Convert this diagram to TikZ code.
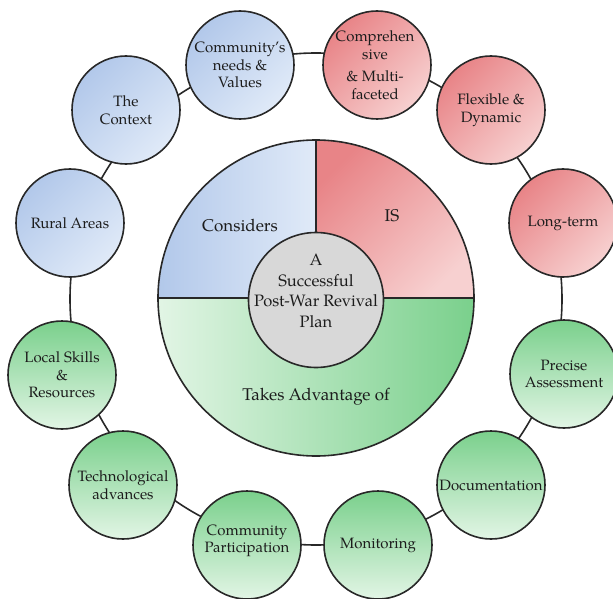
\documentclass[tikz,border=0pt]{standalone}
\usepackage{fontspec}
\setmainfont{TeX Gyre Pagella}
\definecolor{blueD}{RGB}{178,200,234}
\definecolor{blueL}{RGB}{224,234,248}
\definecolor{redD}{RGB}{232,132,135}
\definecolor{redL}{RGB}{247,208,208}
\definecolor{greenD}{RGB}{122,208,140}
\definecolor{greenL}{RGB}{226,245,229}
\definecolor{grayC}{RGB}{216,216,216}
\definecolor{lineC}{RGB}{40,40,40}
\definecolor{txtC}{RGB}{28,28,28}
\begin{document}
\begin{tikzpicture}[x=1pt,y=1pt,
  bord/.style={draw=lineC, line width=1.6pt},
  sc/.style={circle, bord, minimum size=108pt, inner sep=0pt},
  bc/.style={sc, top color=blueD, bottom color=blueL, shading angle=45},
  rc/.style={sc, top color=redD, bottom color=redL, shading angle=45},
  gc/.style={sc, top color=greenD, bottom color=greenL},
  lbl/.style={align=center, font=\fontsize{15}{17.5}\selectfont, text=txtC, inner sep=0pt},
  big/.style={align=center, font=\fontsize{17}{20}\selectfont, text=txtC, inner sep=0pt},
  ring/.style={draw=lineC, line width=1.6pt}]
\fill[white] (0,0) rectangle (613,-599);
\useasboundingbox (0,0) rectangle (613,-599);
% ring behind the small circles
\coordinate (o) at (316,-299);
\draw[ring] (o) circle (246);
% central pie
\coordinate (c) at (316,-298);
\shadedraw[bord, left color=blueD, right color=blueL]
  (c) -- ++(-158,0) arc[start angle=180, end angle=90, radius=158] -- cycle;
\shadedraw[bord, top color=redD, bottom color=redL, shading angle=45]
  (c) -- ++(0,158) arc[start angle=90, end angle=0, radius=158] -- cycle;
\shadedraw[bord, left color=greenL, right color=greenD]
  (c) -- ++(158,0) arc[start angle=0, end angle=-180, radius=158] -- cycle;
\node[circle, bord, fill=grayC, minimum size=135pt, inner sep=0pt] (hub) at (316,-300) {};
\node[big, font=\fontsize{16.5}{20.5}\selectfont] at (316,-291) {A\\Successful\\Post-War Revival\\Plan};
\node[big] (consid) at (240,-225) {Considers};
\node[big] (is) at (392,-216) {IS};
\node[big] (takes) at (316,-397) {Takes Advantage of};
% small circles
\node[bc] (cn) at (240,-65) {};
\node[bc] (tc) at (126,-110) {};
\node[bc] (ra) at (70,-223) {};
\node[rc] (cm) at (377,-65) {};
\node[rc] (fd) at (491,-110) {};
\node[rc] (lt) at (563,-223) {};
\node[gc] (pa) at (564,-374) {};
\node[gc] (dc) at (491,-485) {};
\node[gc] (mo) at (378,-545) {};
\node[gc] (cp) at (247,-545) {};
\node[gc] (ta) at (123,-485) {};
\node[gc] (ls) at (62,-375) {};
% labels
\node[lbl] at (cn) {Community's\\needs \&\\Values};
\node[lbl] at (tc) {The\\Context};
\node[lbl] at (ra) {Rural Areas};
\node[lbl] at (375,-65) {Comprehen\\sive\\[5pt]\& Multi-\\faceted};
\node[lbl] at (fd) {Flexible \&\\Dynamic};
\node[lbl] at (lt) {Long-term};
\node[lbl] at (pa) {Precise\\Assessment};
\node[lbl] at (dc) {Documentation};
\node[lbl] at (mo) {Monitoring};
\node[lbl] at (247,-541) {Community\\Participation};
\node[lbl] at (ta) {Technological\\advances};
\node[lbl] at (ls) {Local Skills\\\&\\Resources};
\end{tikzpicture}
\end{document}
